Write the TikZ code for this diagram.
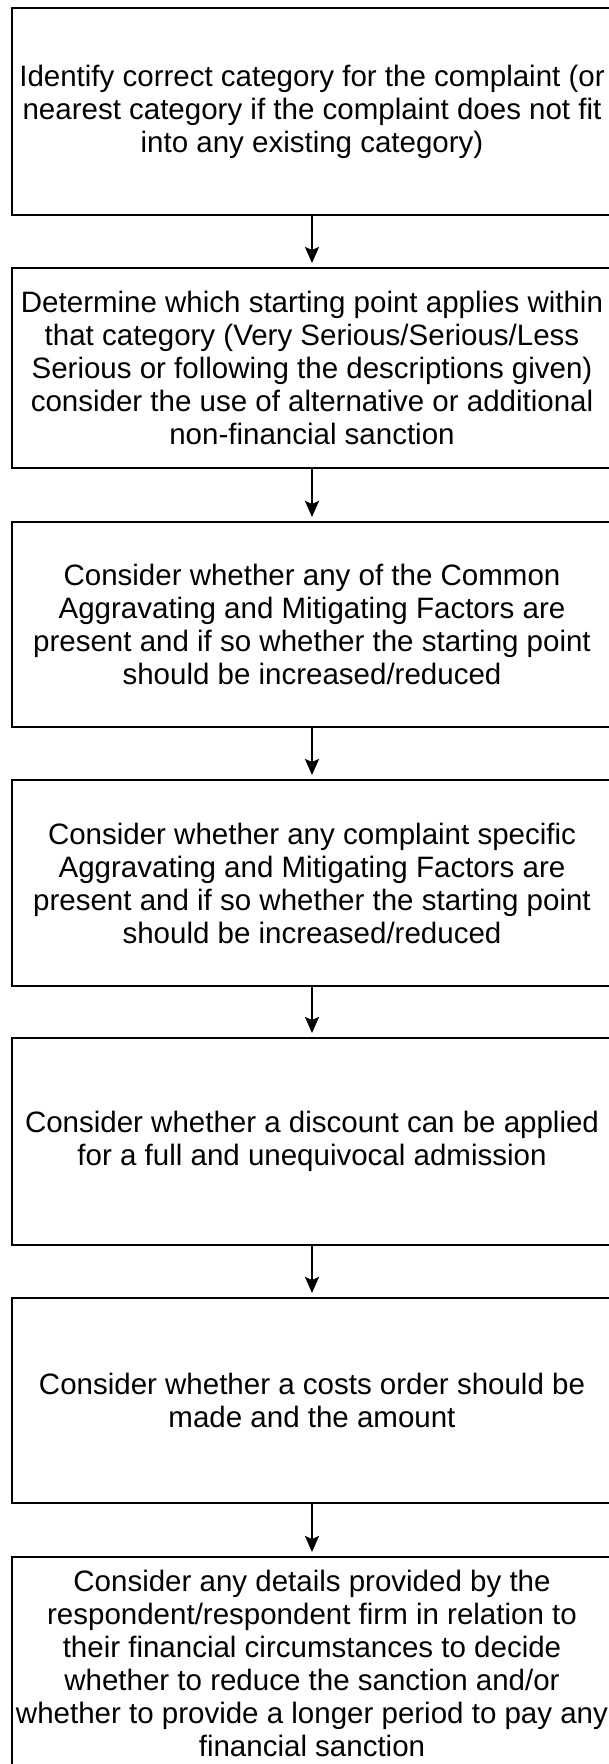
\documentclass[tikz,border=0pt]{standalone}
\usepackage{fontspec}
\setmainfont{Liberation Sans}
\usetikzlibrary{arrows.meta}

\begin{document}
\begin{tikzpicture}[x=0.4pt,y=-0.4pt,
  stage/.style={draw, line width=0.8pt, minimum width=240pt, inner sep=0pt,
    align=center, font=\fontsize{11.8pt}{13.2pt}\selectfont},
  flow/.style={-{Stealth[length=6.4pt,width=5.6pt,inset=1.2pt]},
    line width=0.8pt, shorten >=1.6pt}]
\useasboundingbox (0,0) rectangle (608,1764);
% the stages, top to bottom (the right edge runs off the page)
\node[stage, minimum height=82.8pt] (identify) at (312,111.5)
  {Identify correct category for the complaint (or\\nearest category if the complaint does not fit\\into any existing category)};
\node[stage, minimum height=80pt] (startpoint) at (312,368)
  {Determine which starting point applies within\\that category (Very Serious/Serious/Less\\Serious or following the descriptions given)\\consider the use of alternative or additional\\non-financial sanction};
\node[stage, minimum height=82pt] (common) at (312,624.5)
  {Consider whether any of the Common\\Aggravating and Mitigating Factors are\\present and if so whether the starting point\\should be increased/reduced};
\node[stage, minimum height=82.4pt] (specific) at (312,883)
  {Consider whether any complaint specific\\Aggravating and Mitigating Factors are\\present and if so whether the starting point\\should be increased/reduced};
\node[stage, minimum height=82.8pt] (discount) at (312,1141.5)
  {Consider whether a discount can be applied\\for a full and unequivocal admission};
\node[stage, minimum height=82pt] (costs) at (312,1400.5)
  {Consider whether a costs order should be\\made and the amount};
\node[stage, minimum height=85.2pt] (means) at (312,1663.5)
  {Consider any details provided by the\\respondent/respondent firm in relation to\\their financial circumstances to decide\\whether to reduce the sanction and/or\\whether to provide a longer period to pay any\\financial sanction};
% arrows between the stages
\draw[flow] (identify) -- (startpoint);
\draw[flow] (startpoint) -- (common);
\draw[flow] (common) -- (specific);
\draw[flow] (specific) -- (discount);
\draw[flow] (discount) -- (costs);
\draw[flow] (costs) -- (means);
\end{tikzpicture}
\end{document}
